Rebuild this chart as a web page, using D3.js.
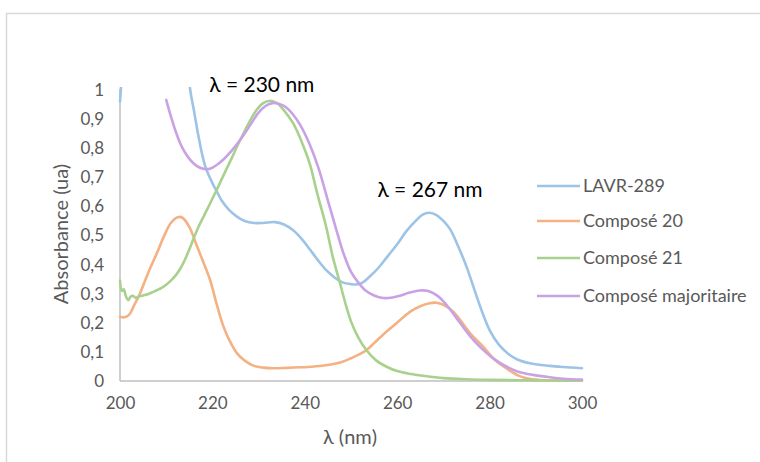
<!DOCTYPE html>
<html><head><meta charset="utf-8">
<script src="https://cdn.jsdelivr.net/npm/d3@7"></script>
<style>
html,body{margin:0;padding:0;background:#fff;}
svg{display:block;}
</style></head>
<body>
<svg id="chart" width="760" height="462"></svg>
<script>
const seriesNames = ["LAVR-289", "Composé 20", "Composé 21", "Composé majoritaire"];
const seriesColors = ["#9dc3e6", "#f4b183", "#a9d18e", "#c8a2e4"];

const lavrWl = [200,200.4,201,203,206,210,213,214,215.2,216,217,218.4,220,221,222,223.5,225.3,227,229,231,233.5,235.5,237.5,239.5,241.1,243,244.7,246.5,248.3,250,251.2,252.5,254,256,258,260,262,264,265.5,267,268.5,270,271.5,273,275,277,278.6,280,282,284,286,289,293,296,300];
const lavrAbs = [0.96,1.05,1.2,1.35,1.45,1.45,1.35,1.2,1.0,0.93,0.84,0.74,0.68,0.65,0.62,0.59,0.565,0.55,0.543,0.543,0.546,0.538,0.518,0.485,0.452,0.412,0.38,0.355,0.338,0.333,0.332,0.338,0.358,0.39,0.43,0.47,0.515,0.55,0.572,0.578,0.57,0.55,0.52,0.47,0.393,0.30,0.228,0.175,0.125,0.094,0.074,0.06,0.052,0.048,0.044];

const c20Wl = [200,201,202,203,204.3,206,208,209.5,211,212.5,213.5,215,216.5,218,219.5,221,222.4,224,225.3,227,229,231,233,236,239,242,245,248,250,252,253.4,255,257,259,261,263,265,267,268.5,270,272,273.6,276,278.6,281,283.7,286,288,291,300];
const c20Abs = [0.221,0.219,0.228,0.258,0.30,0.368,0.44,0.497,0.543,0.563,0.561,0.53,0.47,0.41,0.347,0.26,0.187,0.13,0.096,0.07,0.052,0.046,0.044,0.045,0.047,0.05,0.055,0.065,0.078,0.093,0.107,0.13,0.16,0.187,0.215,0.24,0.257,0.267,0.269,0.262,0.24,0.21,0.16,0.118,0.075,0.043,0.02,0.009,0.003,0.001];

const c21Wl = [200,200.4,200.8,201.3,201.8,202.3,202.9,203.4,204,205,206,207,208,209,210,211,212,213,214,215,216,217,218.3,219.5,220.9,222.5,224,226,228,229.6,231,232.5,234,235.5,237.5,239.5,241.1,242.6,244.7,246,247.6,249,250,251.5,253.4,255.5,257.7,260,263,266,270,275,280,290,300];
const c21Abs = [0.345,0.31,0.315,0.29,0.278,0.29,0.292,0.285,0.29,0.294,0.298,0.305,0.312,0.32,0.331,0.345,0.362,0.385,0.415,0.452,0.492,0.53,0.572,0.61,0.656,0.71,0.76,0.828,0.89,0.932,0.955,0.963,0.955,0.93,0.885,0.815,0.745,0.65,0.525,0.43,0.337,0.255,0.205,0.152,0.105,0.07,0.049,0.034,0.024,0.017,0.01,0.006,0.004,0.002,0.001];

const majWl = [210,211,212,213,214,215.2,216.5,218,219,220,221,222.5,224,226,228,230,231.5,233,234.5,236,237.5,239,241,243,245,247,248.5,250,251.5,253,255,257,259,260.6,262.5,264.9,266.5,268,269.3,271,273.6,276,278.6,281,283.7,286,289.4,293,296,300];
const majAbs = [0.966,0.91,0.86,0.818,0.787,0.76,0.74,0.729,0.728,0.733,0.743,0.763,0.788,0.828,0.875,0.922,0.945,0.955,0.952,0.94,0.915,0.88,0.815,0.73,0.62,0.51,0.433,0.375,0.34,0.313,0.294,0.285,0.287,0.293,0.303,0.311,0.31,0.30,0.285,0.255,0.20,0.15,0.107,0.075,0.049,0.033,0.021,0.013,0.008,0.005];

const xTicks = [200,220,240,260,280,300];
const yTicks = [0,0.1,0.2,0.3,0.4,0.5,0.6,0.7,0.8,0.9,1];
const annotations = [{text:"λ = 230 nm", wl:230.7, a:0.993}, {text:"λ = 267 nm", wl:267.1, a:0.633}];

const seriesWl = [lavrWl, c20Wl, c21Wl, majWl];
const seriesAbs = [lavrAbs, c20Abs, c21Abs, majAbs];

const svg = d3.select("#chart");
const font = "Lato, 'Open Sans', sans-serif";

// outer chart border
svg.append("rect").attr("x",6.5).attr("y",13.5).attr("width",800).attr("height",500)
  .attr("fill","none").attr("stroke","#d9d9d9").attr("stroke-width",1.5);

const x = d3.scaleLinear().domain([200,300]).range([120,582]);
const y = d3.scaleLinear().domain([0,1]).range([381,90]);

svg.append("defs").append("clipPath").attr("id","clip")
  .append("rect").attr("x",110).attr("y",87).attr("width",480).attr("height",300);

// y axis
const yAxis = d3.axisLeft(y).tickValues(yTicks).tickSize(0).tickPadding(0)
  .tickFormat(d => d3.format(".1~f")(d).replace(".", ","));
const gy = svg.append("g").attr("transform","translate(104,0)").call(yAxis);
gy.select(".domain").remove();
gy.selectAll("text").attr("font-family",font).attr("font-size",17).attr("fill","#595959");

// x axis
const xAxis = d3.axisBottom(x).tickValues(xTicks).tickSize(0).tickPadding(0).tickFormat(d3.format("d"));
const gx = svg.append("g").attr("transform","translate(0,397)").call(xAxis);
gx.select(".domain").remove();
gx.selectAll("text").attr("font-family",font).attr("font-size",17).attr("fill","#595959");

// axis lines
svg.append("line").attr("x1",x(200)).attr("x2",x(200)).attr("y1",y(1)-1).attr("y2",y(0))
  .attr("stroke","#bfbfbf").attr("stroke-width",1.5);
svg.append("line").attr("x1",x(200)).attr("x2",x(300)).attr("y1",y(0)).attr("y2",y(0))
  .attr("stroke","#bfbfbf").attr("stroke-width",1.5);

// lines
const line = d3.line().x(d => x(d[0])).y(d => y(d[1])).curve(d3.curveCatmullRom.alpha(0.5));
const gLines = svg.append("g").attr("clip-path","url(#clip)");
seriesNames.forEach((name,i) => {
  const pts = seriesWl[i].map((w,j) => [w, seriesAbs[i][j]]);
  gLines.append("path").datum(pts).attr("d",line).attr("fill","none")
    .attr("stroke",seriesColors[i]).attr("stroke-width",2.6)
    .attr("stroke-linejoin","round").attr("stroke-linecap","round");
});

// axis titles
svg.append("text").attr("transform","translate(68,234) rotate(-90)").attr("text-anchor","middle")
  .attr("font-family",font).attr("font-size",20).attr("fill","#595959").text("Absorbance (ua)");
svg.append("text").attr("x",350).attr("y",444).attr("text-anchor","middle")
  .attr("font-family",font).attr("font-size",20).attr("fill","#595959").text("λ (nm)");

// annotations
annotations.forEach(a => {
  svg.append("text").attr("x",x(a.wl)).attr("y",y(a.a)).attr("text-anchor","middle")
    .attr("font-family",font).attr("font-size",21).attr("fill","#000").text(a.text);
});

// legend
const legY = [186,221,258,296];
seriesNames.forEach((name,i) => {
  svg.append("line").attr("x1",537).attr("x2",580).attr("y1",legY[i]).attr("y2",legY[i])
    .attr("stroke",seriesColors[i]).attr("stroke-width",2.6);
  svg.append("text").attr("x",583).attr("y",legY[i]).attr("dy","0.35em")
    .attr("font-family",font).attr("font-size",18).attr("fill","#595959").text(name);
});
</script>
</body></html>
